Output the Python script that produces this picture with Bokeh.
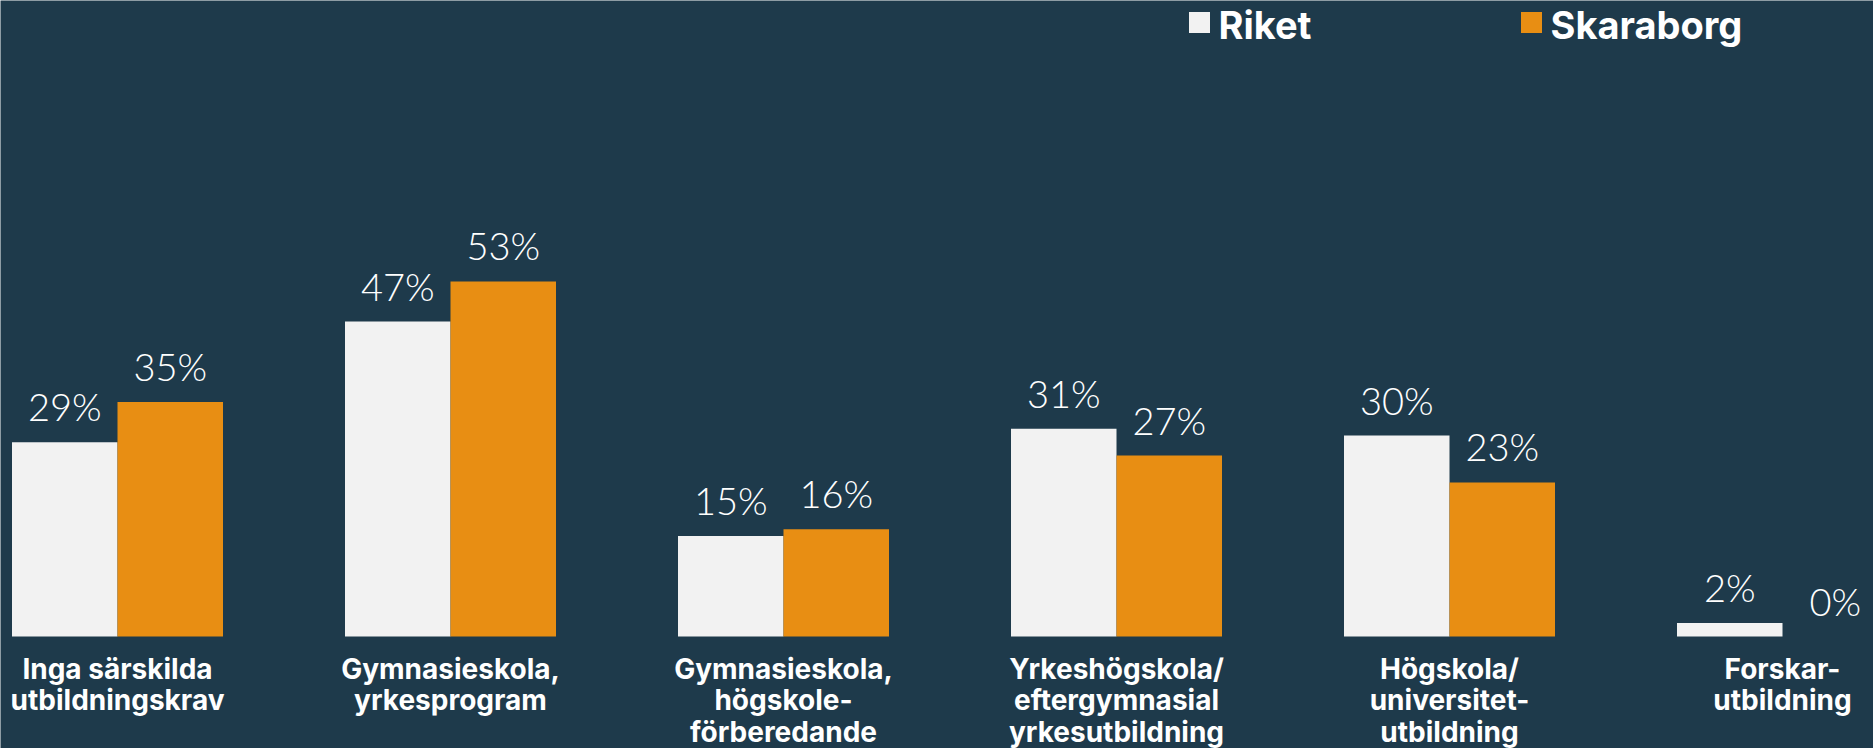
from bokeh.plotting import figure
from bokeh.models import ColumnDataSource, Range1d, LabelSet, Label
from bokeh.embed import file_html
from bokeh.resources import INLINE
from bokeh.core.properties import value

categories = [
    "Inga särskilda\nutbildningskrav",
    "Gymnasieskola,\nyrkesprogram",
    "Gymnasieskola,\nhögskole-\nförberedande",
    "Yrkeshögskola/\neftergymnasial\nyrkesutbildning",
    "Högskola/\nuniversitet-\nutbildning",
    "Forskar-\nutbildning",
]
riket = [29, 47, 15, 31, 30, 2]
skaraborg = [35, 53, 16, 27, 23, 0]
series_names = ["Riket", "Skaraborg"]

BG = "#1e3a4b"
C_RIKET = "#f2f2f2"
C_SKARA = "#e88e13"

W, H = 1873, 748
px_per_unit_x = 333.0
px_per_pct = 6.7
x0 = -117.0 / px_per_unit_x
y0 = -(H - 636.0) / px_per_pct

p = figure(width=W, height=H, output_backend="svg", toolbar_location=None,
           x_range=Range1d(x0, x0 + W / px_per_unit_x),
           y_range=Range1d(y0, y0 + H / px_per_pct),
           min_border=0, background_fill_color=BG, border_fill_color=BG)
p.outline_line_color = None
p.xaxis.visible = False
p.yaxis.visible = False
p.grid.visible = False

n = len(categories)
xs = list(range(n))
bw = 105.5 / px_per_unit_x
off = bw / 2

src_r = ColumnDataSource(dict(x=[x - off for x in xs], top=riket,
                              lab=[f"{v}%" for v in riket]))
src_s = ColumnDataSource(dict(x=[x + off for x in xs], top=skaraborg,
                              lab=[f"{v}%" for v in skaraborg]))

p.vbar(x="x", top="top", bottom=0, width=bw, source=src_r,
       fill_color=C_RIKET, line_color=None)
p.vbar(x="x", top="top", bottom=0, width=bw, source=src_s,
       fill_color=C_SKARA, line_color=None)

for src in (src_r, src_s):
    p.add_layout(LabelSet(x="x", y="top", text="lab", source=src,
                          text_align="center", text_baseline="alphabetic",
                          y_offset=21, text_color="white",
                          text_font=value("Lato Light"), text_font_size="38px"))

src_c = ColumnDataSource(dict(x=xs, y=[0] * n, t=categories))
p.text(x="x", y="y", text="t", source=src_c, text_align="center",
       text_baseline="top", y_offset=15, text_color="white",
       text_font=value("Inter"), text_font_style="bold",
       text_font_size="28px", text_line_height=0.93)

# legend
p.rect(x=[x0 + 1199 / px_per_unit_x, x0 + 1531 / px_per_unit_x],
       y=[y0 + (H - 22) / px_per_pct] * 2,
       width=21, height=21, width_units="screen", height_units="screen",
       fill_color=[C_RIKET, C_SKARA], line_color=None)
for name, xp in zip(series_names, [1218, 1550]):
    p.add_layout(Label(x=xp, y=H - 24, x_units="screen", y_units="screen",
                       text=name, text_color="white", text_font="Inter",
                       text_font_style="bold", text_font_size="38px",
                       text_baseline="alphabetic"))

open("out.html", "w").write(file_html(p, INLINE))
